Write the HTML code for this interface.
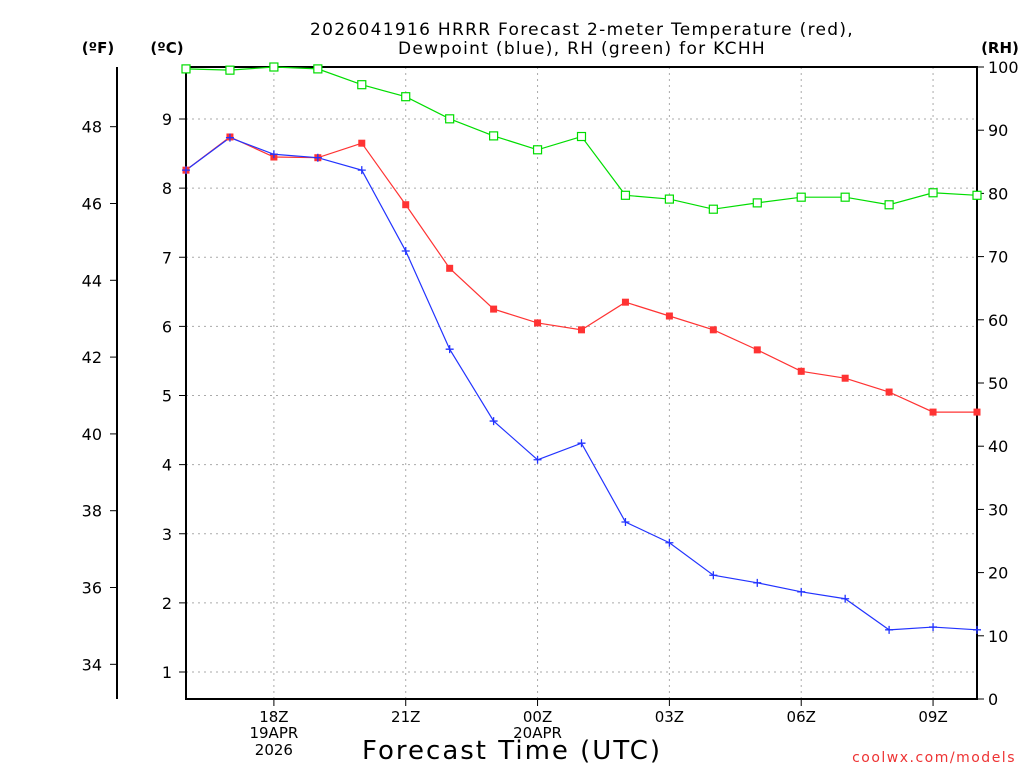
<!DOCTYPE html>
<html><head><meta charset="utf-8"><style>
html,body{margin:0;padding:0;background:#fff;}
svg{display:block;font-family:"DejaVu Sans","Liberation Sans",sans-serif;}
</style></head><body>
<svg id="chart" width="1024" height="768" viewBox="0 0 1024 768">
<g id="grid"></g>
<g id="axes"></g>
<g id="series"></g>
<text x="582" y="35" font-size="17" text-anchor="middle" letter-spacing="1.3">2026041916 HRRR Forecast 2-meter Temperature (red),</text>
<text x="582" y="54" font-size="17" text-anchor="middle" letter-spacing="1.3">Dewpoint (blue), RH (green) for KCHH</text>
<text x="98" y="53" font-size="15" font-weight="bold" text-anchor="middle">(ºF)</text>
<text x="167" y="53" font-size="15" font-weight="bold" text-anchor="middle">(ºC)</text>
<text x="1000" y="53" font-size="15" font-weight="bold" text-anchor="middle">(RH)</text>
<text x="512" y="759" font-size="26" text-anchor="middle" letter-spacing="2">Forecast Time (UTC)</text>
<text x="1016" y="762" font-size="14" fill="#ee3333" text-anchor="end" letter-spacing="1.5">coolwx.com/models</text>
</svg>
<script>
const hours = [16,17,18,19,20,21,22,23,24,25,26,27,28,29,30,31,32,33,34];
const tempC = [8.26,8.74,8.45,8.44,8.65,7.76,6.84,6.25,6.05,5.95,6.35,6.15,5.95,5.66,5.35,5.25,5.05,4.76,4.76];
const dewC = [8.26,8.73,8.49,8.44,8.26,7.09,5.67,4.63,4.07,4.31,3.17,2.87,2.40,2.29,2.16,2.06,1.61,1.65,1.61];
const rh = [99.7,99.5,100,99.7,97.2,95.3,91.8,89.1,86.9,89.0,79.7,79.1,77.5,78.5,79.4,79.4,78.2,80.1,79.7];
const xTickHours = [18,21,24,27,30,33];
const xTickLabels = ["18Z","21Z","00Z","03Z","06Z","09Z"];
const cTicks = [1,2,3,4,5,6,7,8,9];
const fTicks = [34,36,38,40,42,44,46,48];
const rhTicks = [0,10,20,30,40,50,60,70,80,90,100];

const NS="http://www.w3.org/2000/svg";
const L=186,R=977,T=67,B=699;
const xS=h=>L+(h-16)*(R-L)/18;
const cS=c=>672-(c-1)*69.125;
const fS=f=>cS((f-32)/1.8);
const rS=v=>B-v*(B-T)/100;
function mk(p,tag,a){const e=document.createElementNS(NS,tag);for(const k in a)e.setAttribute(k,a[k]);p.appendChild(e);return e;}
const grid=document.getElementById('grid'),axes=document.getElementById('axes'),ser=document.getElementById('series');

xTickHours.forEach((h,i)=>{
  const g=mk(grid,'line',{x1:xS(h),x2:xS(h),y1:T,y2:B,stroke:'#aaa','stroke-dasharray':'2,4'});
  
  
  const t=mk(axes,'line',{x1:xS(h),x2:xS(h),y1:B,y2:B+7,stroke:'#000'});
  
  
  const lb=mk(axes,'text',{x:xS(h),y:722,'font-size':15,'text-anchor':'middle'});
  lb.textContent=xTickLabels[i];
  
  
});
[['19APR',738],['2026',755]].forEach(([s,y])=>{const t=mk(axes,'text',{x:xS(18),y:y,'font-size':15,'text-anchor':'middle'});t.textContent=s;});
{const t=mk(axes,'text',{x:xS(24),y:738,'font-size':15,'text-anchor':'middle'});t.textContent='20APR';}

cTicks.forEach(c=>{
  const g=mk(grid,'line',{x1:L,x2:R,y1:cS(c),y2:cS(c),stroke:'#aaa','stroke-dasharray':'2,4'});
  
  
  const t=mk(axes,'line',{x1:L-7,x2:L,y1:cS(c),y2:cS(c),stroke:'#000'});
  
  
  const lb=mk(axes,'text',{x:172,y:cS(c)+6,'font-size':16,'text-anchor':'end'});
  lb.textContent=c;
  
  
});
fTicks.forEach(f=>{
  const t=mk(axes,'line',{x1:110,x2:117,y1:fS(f),y2:fS(f),stroke:'#000'});
  
  
  const lb=mk(axes,'text',{x:102,y:fS(f)+6,'font-size':16,'text-anchor':'end'});
  lb.textContent=f;
  
  
});
rhTicks.forEach(v=>{
  const t=mk(axes,'line',{x1:R,x2:R+7,y1:rS(v),y2:rS(v),stroke:'#000'});
  
  
  const lb=mk(axes,'text',{x:988,y:rS(v)+6,'font-size':16});
  lb.textContent=v;
  
  
});
{const a=mk(axes,'rect',{x:L,y:T,width:R-L,height:B-T,fill:'none',stroke:'#000','stroke-width':2});}
{const a=mk(axes,'line',{x1:117,x2:117,y1:T,y2:B,stroke:'#000','stroke-width':2});}

function line(vals,ys,color,name){
  const pts=vals.map((v,i)=>xS(hours[i])+','+ys(v)).join(' ');
  const p=mk(ser,'polyline',{points:pts,fill:'none',stroke:color,'stroke-width':1.2});
  
  
}
line(rh,rS,'#00dd00','rh-line');
line(tempC,cS,'#ff3333','temperature-line');
line(dewC,cS,'#2233ff','dewpoint-line');
rh.forEach((v,i)=>{const m=mk(ser,'rect',{x:xS(hours[i])-4,y:rS(v)-4,width:8,height:8,fill:'#fff',stroke:'#00dd00','stroke-width':1.2});});
tempC.forEach((v,i)=>{const m=mk(ser,'rect',{x:xS(hours[i])-3.5,y:cS(v)-3.5,width:7,height:7,fill:'#ff3333'});});
dewC.forEach((v,i)=>{const x=xS(hours[i]),y=cS(v);const m=mk(ser,'path',{d:`M${x-4},${y}H${x+4}M${x},${y-4}V${y+4}`,stroke:'#2233ff','stroke-width':1.3});});
</script>
</body></html>
